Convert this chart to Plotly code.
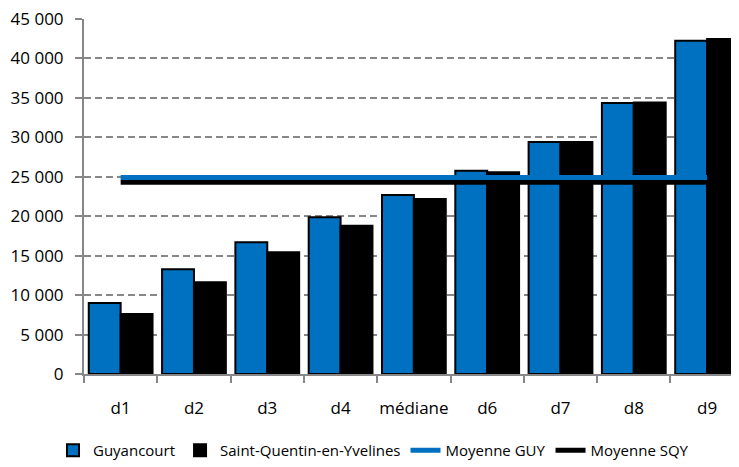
import plotly.graph_objects as go

categories = ["d1", "d2", "d3", "d4", "médiane", "d6", "d7", "d8", "d9"]
guyancourt = [9000, 13270, 16690, 19860, 22690, 25770, 29400, 34350, 42240]
sqy = [7600, 11620, 15420, 18800, 22180, 25560, 29400, 34400, 42460]
moyenne_guy = 24900
moyenne_sqy = 24320
y_ticks = [0, 5000, 10000, 15000, 20000, 25000, 30000, 35000, 40000, 45000]
y_tick_labels = ["0", "5 000", "10 000", "15 000", "20 000", "25 000",
                 "30 000", "35 000", "40 000", "45 000"]

BLUE = "#0070C0"
GRAY = "#878787"
FONT = "Open Sans"

fig = go.Figure()
fig.add_trace(go.Bar(x=categories, y=guyancourt, name="Guyancourt",
                     marker=dict(color=BLUE, line=dict(color="black", width=2))))
fig.add_trace(go.Bar(x=categories, y=sqy, name="Saint-Quentin-en-Yvelines",
                     marker=dict(color="black", line=dict(color="black", width=2))))
fig.add_trace(go.Scatter(x=categories, y=[moyenne_sqy] * len(categories),
                         name="Moyenne SQY", mode="lines",
                         line=dict(color="black", width=5), legendrank=4))
fig.add_trace(go.Scatter(x=categories, y=[moyenne_guy] * len(categories),
                         name="Moyenne GUY", mode="lines",
                         line=dict(color=BLUE, width=5), legendrank=3))
fig.data[0].legendrank = 1
fig.data[1].legendrank = 2

# page body has an 8px margin, so the figure is drawn 8px right and down
fig.update_layout(
    width=731, height=459,
    margin=dict(l=76, r=0, t=11, b=93, autoexpand=False),
    plot_bgcolor="white", paper_bgcolor="white",
    barmode="group", bargap=0.13, bargroupgap=0,
    font=dict(family=FONT, size=17, color="black"),
    showlegend=True,
    legend=dict(orientation="h", xref="container", yref="container",
                x=0.5, xanchor="center", y=0.0, yanchor="bottom",
                font=dict(family=FONT, size=15, color="black"),
                traceorder="normal", itemwidth=30, tracegroupgap=0),
)
fig.update_xaxes(
    type="category", range=[-0.5, 8.435], automargin=False, tickangle=0,
    showline=True, linecolor=GRAY, linewidth=2,
    ticks="outside", tickson="boundaries", ticklen=7, tickwidth=2, tickcolor=GRAY,
    ticklabelstandoff=18, showgrid=False,
)
fig.update_yaxes(
    range=[0, 45000], tickvals=y_ticks, ticktext=y_tick_labels, automargin=False,
    showline=True, linecolor=GRAY, linewidth=2,
    ticks="outside", ticklen=7, tickwidth=2, tickcolor=GRAY,
    ticklabelstandoff=8, tickfont=dict(size=17), ticklabeloverflow="allow",
    showgrid=True, gridcolor=GRAY, gridwidth=2, griddash="7px,4px",
    zeroline=False,
)

fig.write_html("out.html")
